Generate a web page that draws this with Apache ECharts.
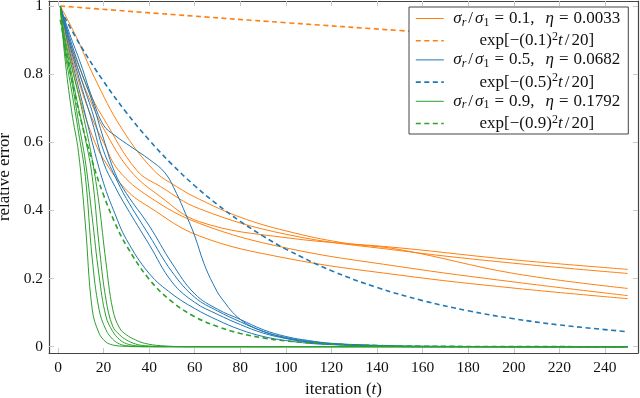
<!DOCTYPE html>
<html>
<head>
<meta charset="utf-8">
<script src="https://cdn.jsdelivr.net/npm/echarts@6/dist/echarts.min.js"></script>
<style>
  html, body { margin: 0; padding: 0; background: #fff; }
  #chart { width: 640px; height: 398px; }
</style>
</head>
<body>
<div id="chart"></div>
<script>
// tick labels
var xTicks = [0, 20, 40, 60, 80, 100, 120, 140, 160, 180, 200, 220, 240];
var yTicks = [0, 0.2, 0.4, 0.6, 0.8, 1];

// sigma_r/sigma_1 = 0.1 runs, [iteration, relative error]
var orangeRuns = [
  [[1,1],[8,0.91],[16,0.79],[28,0.64],[42,0.518],[52,0.47],[62,0.433],[80,0.38],[100,0.34],[125,0.305],[150,0.285],[200,0.215],[250,0.171]],
  [[1,1],[5,0.9],[10,0.81],[15,0.73],[20,0.67],[34.5,0.518],[45,0.47],[62,0.405],[100,0.33],[150,0.282],[200,0.245],[250,0.215]],
  [[1,1],[5,0.89],[10,0.79],[15,0.71],[20,0.64],[31.6,0.518],[45,0.44],[62,0.367],[100,0.32],[150,0.29],[200,0.255],[250,0.227]],
  [[1,1],[5,0.88],[10,0.76],[15,0.67],[20,0.6],[26.5,0.518],[40,0.44],[62,0.362],[100,0.29],[150,0.235],[200,0.19],[250,0.15]],
  [[1,1],[5,0.86],[10,0.72],[15,0.62],[20,0.55],[30,0.46],[40,0.41],[62,0.325],[100,0.26],[150,0.21],[200,0.172],[250,0.141]]
];
var orangeRate = [[1,1],[50,0.975],[100,0.951],[150,0.928],[200,0.905],[250,0.882]];

// sigma_r/sigma_1 = 0.5 runs
var blueRuns = [
  [[1,1],[5,0.87],[10,0.735],[15,0.6],[20,0.48],[25,0.39],[30,0.315],[40,0.215],[50,0.155],[60,0.112],[70,0.078],[80,0.05],[90,0.03],[100,0.018],[110,0.01],[120,0.006],[140,0.002],[160,0],[250,0]],
  [[1,1],[5,0.89],[10,0.77],[15,0.66],[20,0.54],[25,0.47],[30,0.41],[40,0.3],[50,0.19],[60,0.13],[70,0.095],[80,0.065],[90,0.04],[100,0.024],[110,0.014],[120,0.008],[140,0.003],[160,0.001],[250,0]],
  [[1,1],[5,0.9],[10,0.79],[15,0.69],[20,0.575],[25,0.5],[30,0.435],[40,0.327],[50,0.22],[60,0.145],[70,0.105],[80,0.073],[90,0.045],[100,0.027],[110,0.016],[120,0.009],[140,0.003],[160,0.001],[250,0]],
  [[1,1],[5,0.91],[10,0.81],[15,0.72],[20,0.61],[25,0.51],[30,0.45],[40,0.355],[50,0.245],[60,0.155],[70,0.11],[80,0.08],[90,0.05],[100,0.03],[110,0.018],[120,0.01],[140,0.004],[160,0.001],[250,0]],
  [[1,1],[5,0.92],[10,0.83],[15,0.73],[20,0.65],[25,0.62],[32,0.587],[40,0.55],[47,0.51],[52,0.45],[56,0.39],[60,0.325],[64,0.245],[68,0.185],[72,0.14],[80,0.08],[90,0.045],[100,0.025],[110,0.013],[120,0.007],[140,0.002],[160,0],[250,0]]
];
var blueRate = [[1,0.99],[10,0.8825],[20,0.7788],[30,0.6873],[40,0.6065],[50,0.5353],[60,0.4724],[70,0.4169],[80,0.3679],[90,0.3247],[100,0.2865],[120,0.2231],[140,0.1738],[160,0.1353],[180,0.1054],[200,0.0821],[220,0.0639],[250,0.0439]];

// sigma_r/sigma_1 = 0.9 runs
var greenRuns = [
  [[1,1],[3,0.85],[6,0.69],[9,0.57],[12,0.36],[15,0.11],[18,0.04],[21,0.014],[24,0.005],[27,0.002],[30,0.001],[34,0],[60,0],[250,0]],
  [[1,1],[3,0.87],[6,0.75],[9,0.63],[12,0.5],[15,0.26],[18,0.11],[21,0.05],[24,0.022],[27,0.008],[30,0.003],[34,0.001],[38,0],[60,0],[250,0]],
  [[1,1],[3,0.88],[6,0.78],[9,0.66],[12,0.545],[15,0.38],[18,0.21],[21,0.09],[24,0.045],[27,0.021],[30,0.009],[34,0.003],[38,0.001],[45,0],[250,0]],
  [[1,1],[3,0.9],[6,0.8],[9,0.7],[12,0.61],[15,0.5],[18,0.3],[21,0.14],[24,0.06],[27,0.035],[30,0.02],[34,0.008],[38,0.003],[45,0.001],[60,0],[250,0]],
  [[1,1],[3,0.91],[6,0.82],[9,0.74],[12,0.65],[15,0.55],[18,0.42],[21,0.25],[24,0.11],[27,0.055],[30,0.035],[34,0.02],[38,0.01],[45,0.003],[60,0],[250,0]]
];
var greenRate = [[1,0.96],[5,0.817],[10,0.667],[15,0.545],[20,0.445],[25,0.363],[30,0.297],[40,0.198],[50,0.132],[60,0.088],[70,0.059],[80,0.039],[90,0.026],[100,0.017],[120,0.008],[140,0.0035],[160,0.0015],[200,0.0003],[250,0]];

var colors = { o: '#ff7f0e', b: '#1f77b4', g: '#2ca02c' };

var legendText = {
  o:  '{i|σ}{s|r}{sl|/}{i|σ}{u|1}{e|=}{n|0.1,}{c| }{i|η}{e|=}{n|0.0033}',
  od: '{n|exp[−(0.1)}{p|2}{i|t}{sl|/}{n|20]}',
  b:  '{i|σ}{s|r}{sl|/}{i|σ}{u|1}{e|=}{n|0.5,}{c| }{i|η}{e|=}{n|0.0682}',
  bd: '{n|exp[−(0.5)}{p|2}{i|t}{sl|/}{n|20]}',
  g:  '{i|σ}{s|r}{sl|/}{i|σ}{u|1}{e|=}{n|0.9,}{c| }{i|η}{e|=}{n|0.1792}',
  gd: '{n|exp[−(0.9)}{p|2}{i|t}{sl|/}{n|20]}'
};

var font = 'Liberation Serif';
var series = [];

function addRuns(runs, key) {
  runs.forEach(function (d) {
    series.push({
      name: key, type: 'line', data: d, symbol: 'none',
      smooth: 0.4,
      lineStyle: { color: colors[key], width: 1 },
      itemStyle: { color: colors[key] }
    });
  });
}
function addRate(d, key) {
  series.push({
    name: key + 'd', type: 'line', data: d, symbol: 'none',
    smooth: 0.4,
    lineStyle: { color: colors[key], width: 1.6, type: [5, 3.5] },
    itemStyle: { color: colors[key] }
  });
}

addRuns(orangeRuns, 'o'); addRate(orangeRate, 'o');
addRuns(blueRuns, 'b');   addRate(blueRate, 'b');
addRuns(greenRuns, 'g');  addRate(greenRate, 'g');

var tickStyle = { inside: true, length: 5, lineStyle: { color: '#c8c8c8', width: 1 } };
var frameLine = { show: true, onZero: false, lineStyle: { color: '#444', width: 1.2 } };
var labelFont = { fontFamily: font, fontSize: 15.5, color: '#111' };
var mathSize = 17;
var subSize = 12;

var chart = echarts.init(document.getElementById('chart'), null, { renderer: 'canvas' });

chart.setOption({
  animation: false,
  grid: { left: 49, right: 2, top: 1, bottom: 45, containLabel: false, outerBoundsMode: 'none' },
  legend: {
    orient: 'vertical',
    left: 409, top: 7,
    padding: [3, 8, 2, 6],
    itemGap: 2.2,
    itemWidth: 28, itemHeight: 12,
    itemStyle: { opacity: 0 },
    backgroundColor: '#fff',
    borderColor: '#444', borderWidth: 1,
    data: [
      { name: 'o', lineStyle: { width: 1 } },
      { name: 'od', lineStyle: { width: 1.6 } },
      { name: 'b', lineStyle: { width: 1 } },
      { name: 'bd', lineStyle: { width: 1.6 } },
      { name: 'g', lineStyle: { width: 1 } },
      { name: 'gd', lineStyle: { width: 1.6 } }
    ],
    formatter: function (name) { return legendText[name]; },
    textStyle: {
      width: 176,
      fontFamily: font, fontSize: mathSize, color: '#111',
      rich: {
        n: { fontFamily: font, fontSize: mathSize, lineHeight: 20, align: 'center' },
        i: { fontFamily: font, fontSize: mathSize, fontStyle: 'italic', lineHeight: 20, align: 'center' },
        sl: { fontFamily: font, fontSize: mathSize, lineHeight: 20, padding: [0, 2], align: 'center' },
        e: { fontFamily: font, fontSize: mathSize, lineHeight: 20, padding: [0, 5], align: 'center' },
        c: { fontFamily: font, fontSize: mathSize, lineHeight: 20, width: 11, align: 'center' },
        s: { fontFamily: font, fontSize: subSize, fontStyle: 'italic', lineHeight: 10, verticalAlign: 'bottom', align: 'center' },
        u: { fontFamily: font, fontSize: subSize, lineHeight: 10, verticalAlign: 'bottom', align: 'center' },
        p: { fontFamily: font, fontSize: subSize, lineHeight: 11, verticalAlign: 'top', align: 'center' }
      }
    }
  },
  xAxis: [{
    type: 'value', min: -3.95, max: 254.5,
    name: 'iteration ({it|t})', nameLocation: 'middle', nameGap: 23,
    nameTextStyle: {
      fontFamily: font, fontSize: 17, color: '#111',
      rich: { it: { fontFamily: font, fontSize: 17, fontStyle: 'italic' } }
    },
    axisLine: frameLine,
    axisTick: Object.assign({ customValues: xTicks }, tickStyle),
    axisLabel: Object.assign({ customValues: xTicks, margin: 7 }, labelFont),
    splitLine: { show: false }
  }, {
    type: 'value', min: -3.95, max: 254.5, position: 'top',
    axisLine: frameLine,
    axisTick: Object.assign({ customValues: xTicks }, tickStyle),
    axisLabel: { show: false },
    splitLine: { show: false }
  }],
  yAxis: [{
    type: 'value', min: -0.0185, max: 1.0147,
    name: 'relative error', nameLocation: 'middle', nameGap: 31, nameRotate: 90,
    nameTextStyle: { fontFamily: font, fontSize: 17, color: '#111' },
    axisLine: frameLine,
    axisTick: Object.assign({ customValues: yTicks }, tickStyle),
    axisLabel: Object.assign({
      customValues: yTicks, margin: 6,
      formatter: function (v) { return String(+v.toFixed(1)); }
    }, labelFont),
    splitLine: { show: false }
  }, {
    type: 'value', min: -0.0185, max: 1.0147, position: 'right',
    axisLine: frameLine,
    axisTick: Object.assign({ customValues: yTicks }, tickStyle),
    axisLabel: { show: false },
    splitLine: { show: false }
  }],
  series: series
});
</script>
</body>
</html>
